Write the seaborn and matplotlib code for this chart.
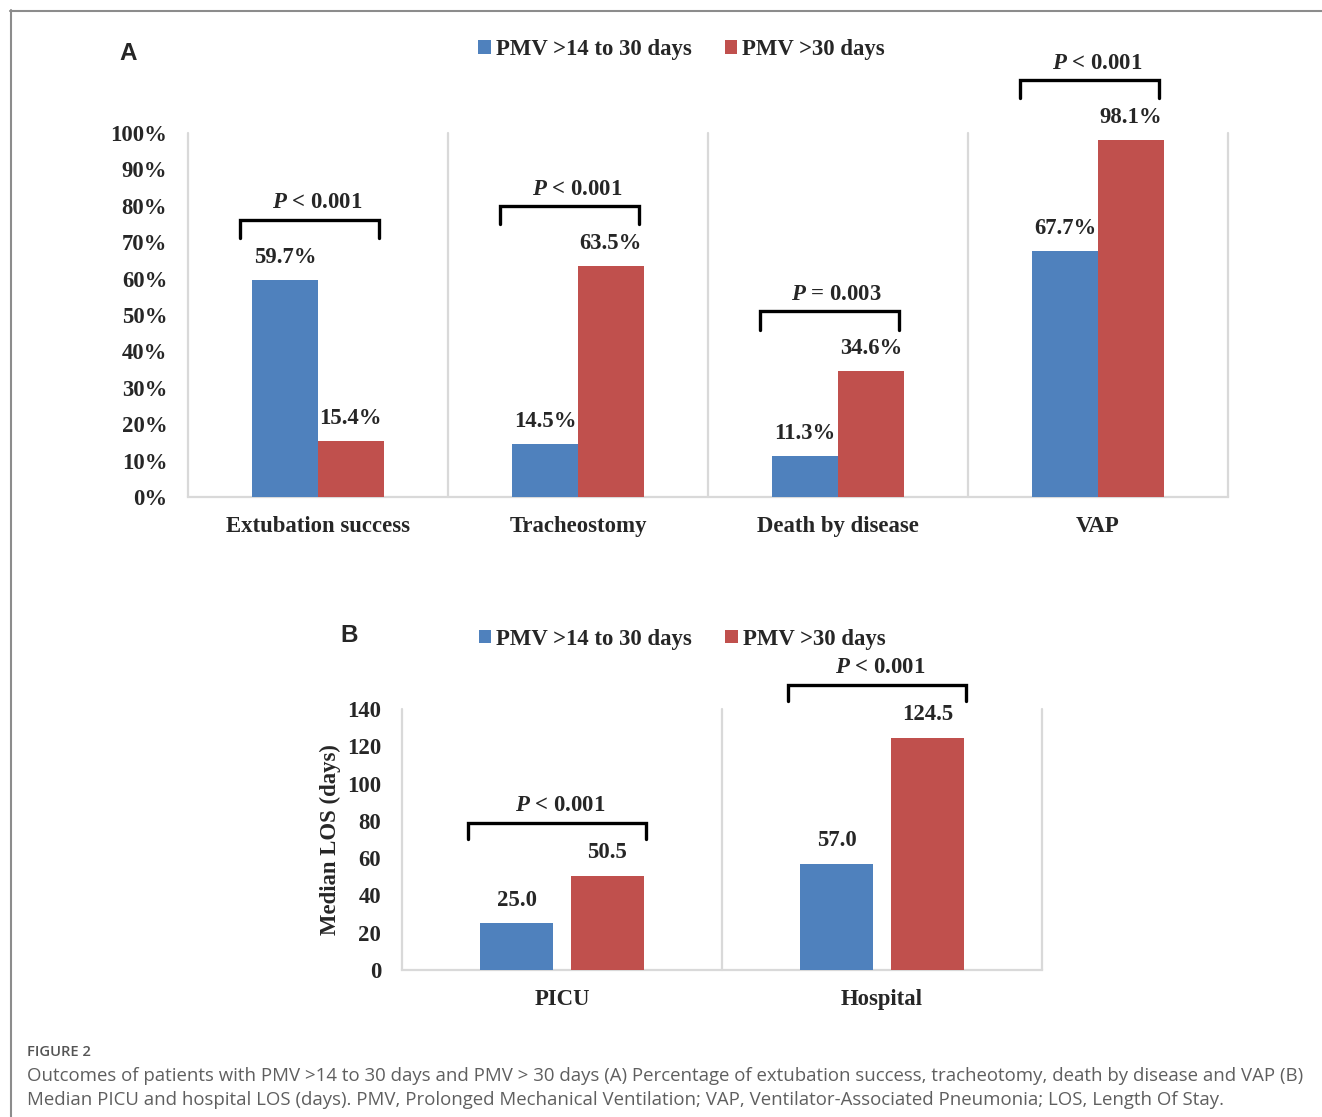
import matplotlib
matplotlib.use("Agg")
import matplotlib.pyplot as plt
import seaborn as sns
import pandas as pd
from matplotlib.lines import Line2D
from matplotlib.ticker import FuncFormatter, MultipleLocator

# ---------------- data ----------------
groups = ["PMV >14 to 30 days", "PMV >30 days"]
outcomes_a = ["Extubation success", "Tracheostomy", "Death by disease", "VAP"]
pct_short = [59.7, 14.5, 11.3, 67.7]
pct_long = [15.4, 63.5, 34.6, 98.1]
p_cmp_a = ["< 0.001", "< 0.001", "= 0.003", "< 0.001"]

los_cats = ["PICU", "Hospital"]
los_short = [25.0, 57.0]
los_long = [50.5, 124.5]
p_cmp_b = ["< 0.001", "< 0.001"]

BLUE = "#4F81BD"
RED = "#C0504D"
GRID = "#D9D9D9"

sns.set_style("white")
plt.rcParams["font.family"] = ["Liberation Serif", "DejaVu Serif"]
plt.rcParams["font.weight"] = "bold"
plt.rcParams["mathtext.fontset"] = "custom"
plt.rcParams["mathtext.it"] = "Liberation Serif:italic:bold"
plt.rcParams["mathtext.rm"] = "Liberation Serif:bold"

FS = 16.4
W, H = 1322, 1117
fig = plt.figure(figsize=(W / 100, H / 100), dpi=100)

def fx(px):
    return px / W

def fy(py):
    return 1 - py / H

df_a = pd.DataFrame({
    "outcome": outcomes_a * 2,
    "value": pct_short + pct_long,
    "group": [groups[0]] * len(outcomes_a) + [groups[1]] * len(outcomes_a),
})
df_b = pd.DataFrame({
    "cat": los_cats * 2,
    "value": los_short + los_long,
    "group": [groups[0]] * len(los_cats) + [groups[1]] * len(los_cats),
})

axA = fig.add_axes([fx(188), fy(497), fx(1228) - fx(188), fy(133) - fy(497)])
axB = fig.add_axes([fx(402), fy(970), fx(1042) - fx(402), fy(709) - fy(970)])

sns.barplot(data=df_a, x="outcome", y="value", hue="group", order=outcomes_a,
            hue_order=groups, palette=[BLUE, RED], saturation=1, width=0.504,
            gap=0, ax=axA, errorbar=None, zorder=3, linewidth=0)
sns.barplot(data=df_b, x="cat", y="value", hue="group", order=los_cats,
            hue_order=groups, palette=[BLUE, RED], saturation=1, width=0.566,
            gap=0.2, ax=axB, errorbar=None, zorder=3, linewidth=0)

def style_axes(ax, ncat, ymax):
    ax.set_xlim(-0.5, ncat - 0.5)
    ax.set_ylim(0, ymax)
    for s in ["top", "right", "left"]:
        ax.spines[s].set_visible(False)
    ax.spines["bottom"].set_color(GRID)
    ax.spines["bottom"].set_linewidth(1.6)
    for k in range(ncat + 1):
        ax.axvline(k - 0.5, color=GRID, lw=1.6, zorder=1, clip_on=False)
    ax.tick_params(axis="both", length=0, labelsize=FS)
    ax.tick_params(axis="x", pad=13.5)
    ax.tick_params(axis="y", pad=15)
    ax.set_xlabel("")
    for t in ax.get_xticklabels() + ax.get_yticklabels():
        t.set_fontweight("bold")

style_axes(axA, len(outcomes_a), 100)
axA.yaxis.set_major_locator(MultipleLocator(10))
axA.yaxis.set_major_formatter(FuncFormatter(lambda v, p: f"{v:.0f}%"))
axA.set_ylabel("")

style_axes(axB, len(los_cats), 140)
axB.yaxis.set_major_locator(MultipleLocator(20))
axB.yaxis.set_major_formatter(FuncFormatter(lambda v, p: f"{v:.0f}"))
axB.set_ylabel("Median LOS (days)", fontsize=FS, fontweight="bold", labelpad=4.5)

# value labels
def value_labels(ax, fmt, off_pt):
    for cont in ax.containers:
        for bar in cont:
            h = bar.get_height()
            xc = bar.get_x() + bar.get_width() / 2
            ax.annotate(fmt.format(h), xy=(xc, h), xytext=(0, off_pt),
                        textcoords="offset points", ha="center", va="center",
                        fontsize=FS, fontweight="bold", zorder=5)

value_labels(axA, "{:.1f}%", 16.2)
value_labels(axB, "{:.1f}", 16.5)

# significance brackets
def brackets(ax, short, long, cmps, dx0, dx1, rise, leg):
    for i, (a, b, c) in enumerate(zip(short, long, cmps)):
        top = max(a, b) + rise
        x0, x1 = i + dx0, i + dx1
        ax.plot([x0, x0, x1, x1], [top - leg, top, top, top - leg], color="black",
                lw=2.4, clip_on=False, solid_joinstyle="miter", zorder=6)
        ax.annotate(r"$P$ " + c, xy=(i - 0.005, top), xytext=(0, 12.3),
                    textcoords="offset points", ha="center", va="center",
                    fontsize=FS, fontweight="bold", annotation_clip=False)

brackets(axA, pct_short, pct_long, p_cmp_a, -0.30, 0.235, 16.4, 5.0)
brackets(axB, los_short, los_long, p_cmp_b, -0.294, 0.2625, 28.6, 8.6)

# legends
for ax, bx, by in [(axA, 0.4745, 1.230), (axB, 0.4375, 1.268)]:
    sns.move_legend(ax, loc="center", bbox_to_anchor=(bx, by), ncol=2,
                    frameon=False, title=None, fontsize=FS,
                    handlelength=0.55, handleheight=0.55, handletextpad=0.22,
                    columnspacing=1.45, borderpad=0, borderaxespad=0)
    for t in ax.get_legend().get_texts():
        t.set_fontweight("bold")

# panel letters
fig.text(fx(128), fy(53), "A", family="Liberation Sans", fontweight="bold",
         fontsize=17.5, ha="center", va="center")
fig.text(fx(349), fy(636), "B", family="Liberation Sans", fontweight="bold",
         fontsize=17.5, ha="center", va="center")

# caption
fig.text(fx(27), fy(1052), "FIGURE 2", family="Open Sans", fontweight="semibold",
         fontsize=10.6, color="#555555", ha="left", va="center")
cap1 = ("Outcomes of patients with PMV >14 to 30 days and PMV > 30 days (A) Percentage "
        "of extubation success, tracheotomy, death by disease and VAP (B)")
cap2 = ("Median PICU and hospital LOS (days). PMV, Prolonged Mechanical Ventilation; "
        "VAP, Ventilator-Associated Pneumonia; LOS, Length Of Stay.")
fig.text(fx(27), fy(1076), cap1, family="Open Sans", fontweight="normal",
         fontsize=13.4, color="#5f5f5f", ha="left", va="center")
fig.text(fx(27), fy(1100), cap2, family="Open Sans", fontweight="normal",
         fontsize=13.4, color="#5f5f5f", ha="left", va="center")

# frame lines
fig.add_artist(Line2D([fx(10), 1], [fy(10.5), fy(10.5)], color="#8c8c8c", lw=1.5))
fig.add_artist(Line2D([fx(10.5), fx(10.5)], [fy(10), 0], color="#8c8c8c", lw=1.5))

fig.savefig("out.png", dpi=100)
